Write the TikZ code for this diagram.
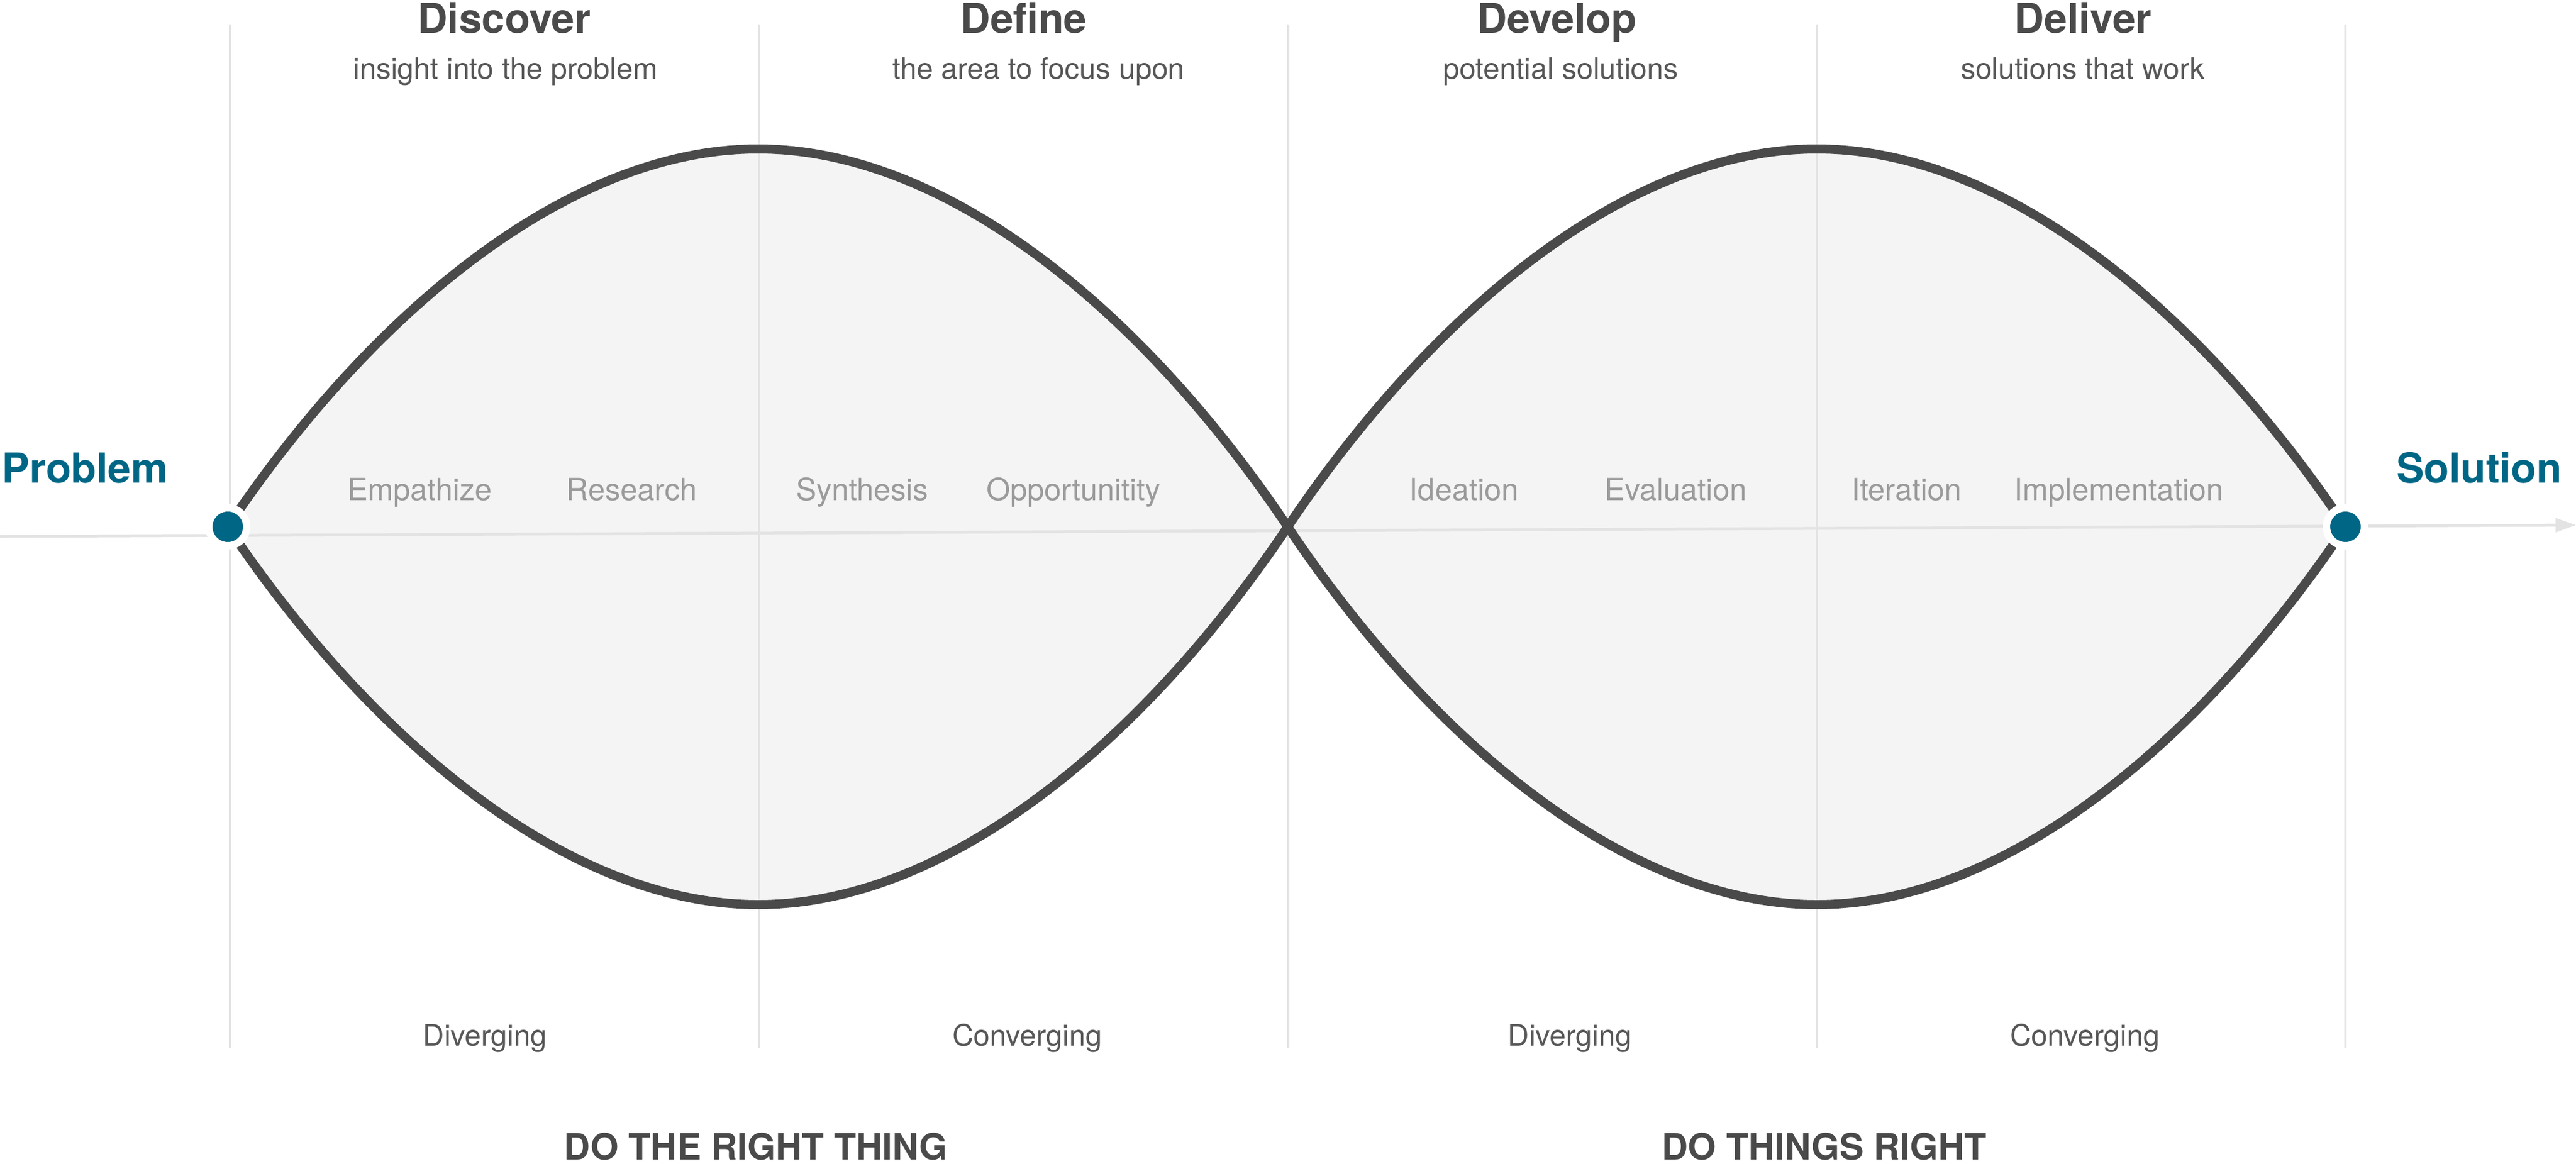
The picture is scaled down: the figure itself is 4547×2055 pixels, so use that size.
\documentclass[tikz,border=0pt]{standalone}
\usepackage{fontspec}
\setmainfont{TeX Gyre Heros}
\usetikzlibrary{arrows.meta}
\definecolor{ink}{HTML}{4A4A4A}
\definecolor{subink}{HTML}{575757}
\definecolor{dtteal}{HTML}{006685}
\definecolor{lensfill}{HTML}{F4F4F4}
\definecolor{gridc}{HTML}{E3E3E3}
\definecolor{lbl}{HTML}{9B9B9B}
\begin{document}
\begin{tikzpicture}[x=1pt,y=-1pt,
  head/.style={anchor=base, inner sep=0, text=ink, font=\fontsize{73}{80}\selectfont\bfseries},
  sub/.style={anchor=base, inner sep=0, text=subink, font=\fontsize{52}{60}\selectfont},
  inner/.style={anchor=base, inner sep=0, text=lbl, font=\fontsize{54}{60}\selectfont},
  endlbl/.style={anchor=base, inner sep=0, text=dtteal, font=\fontsize{73}{80}\selectfont\bfseries},
  foot/.style={anchor=base, inner sep=0, text=ink, font=\fontsize{64}{70}\selectfont\bfseries},
  gridline/.style={draw=gridc, line width=4pt},
  axisline/.style={draw=gridc, line width=5pt, -{Triangle[length=36pt,width=24pt]}},
  lens/.style={fill=lensfill},
  curve/.style={draw=ink, line width=16pt},
  dot/.style={circle, fill=dtteal, draw=white, line width=13pt, minimum size=67pt, inner sep=0}]
\useasboundingbox (0,0) rectangle (4547,2055);
\fill[white] (0,0) rectangle (4547,2055);

% lens fills
\path[lens] (402,930) .. controls (650,560) and (998,263) .. (1338,263)
  .. controls (1678,263) and (2025,560) .. (2273,930)
  .. controls (2025,1300) and (1678,1597) .. (1338,1597)
  .. controls (998,1597) and (650,1300) .. (402,930) -- cycle;
\path[lens] (2273,930) .. controls (2521,560) and (2867,263) .. (3207,263)
  .. controls (3547,263) and (3892,560) .. (4140,930)
  .. controls (3892,1300) and (3547,1597) .. (3207,1597)
  .. controls (2867,1597) and (2521,1300) .. (2273,930) -- cycle;

% column lines
\foreach \xx in {406,1340,2274,3207,4140} {
  \draw[gridline] (\xx,43) -- (\xx,1850);
}

% axis
\coordinate (axL) at (0,947);
\coordinate (axR) at (4547,927);
\draw[axisline] (axL) -- (axR);

% curves
\draw[curve] (402,930) .. controls (650,560) and (998,263) .. (1338,263)
  .. controls (1678,263) and (2025,560) .. (2273,930)
  .. controls (2521,1300) and (2867,1597) .. (3207,1597)
  .. controls (3547,1597) and (3892,1300) .. (4140,930);
\draw[curve] (402,930) .. controls (650,1300) and (998,1597) .. (1338,1597)
  .. controls (1678,1597) and (2025,1300) .. (2273,930)
  .. controls (2521,560) and (2867,263) .. (3207,263)
  .. controls (3547,263) and (3892,560) .. (4140,930);

% end dots
\node[dot] (prob) at (402,930) {};
\node[dot] (sol) at (4140,930) {};

% end labels
\node[endlbl] (problbl) at (150,852) {Problem};
\node[endlbl] (sollbl) at (4376,852) {Solution};

% headings
\node[head] (h1) at (890,59) {Discover};
\node[head] (h2) at (1807,59) {Define};
\node[head] (h3) at (2748,59) {Develop};
\node[head] (h4) at (3677,59) {Deliver};
\node[sub] (s1) at (892,140) {insight into the problem};
\node[sub] (s2) at (1833,140) {the area to focus upon};
\node[sub] (s3) at (2755,140) {potential solutions};
\node[sub] (s4) at (3676,140) {solutions that work};

% inner labels
\node[inner] (l1) at (741,883) {Empathize};
\node[inner] (l2) at (1115,883) {Research};
\node[inner] (l3) at (1522,883) {Synthesis};
\node[inner] (l4) at (1895,883) {Opportunitity};
\node[inner] (l5) at (2584,883) {Ideation};
\node[inner] (l6) at (2958,883) {Evaluation};
\node[inner] (l7) at (3365,883) {Iteration};
\node[inner] (l8) at (3740,883) {Implementation};

% bottom labels
\node[sub] (b1) at (856,1846) {Diverging};
\node[sub] (b2) at (1813,1846) {Converging};
\node[sub] (b3) at (2771,1846) {Diverging};
\node[sub] (b4) at (3680,1846) {Converging};
\node[foot] (f1) at (1334,2047) {DO THE RIGHT THING};
\node[foot] (f2) at (3220,2047) {DO THINGS RIGHT};
\end{tikzpicture}
\end{document}
